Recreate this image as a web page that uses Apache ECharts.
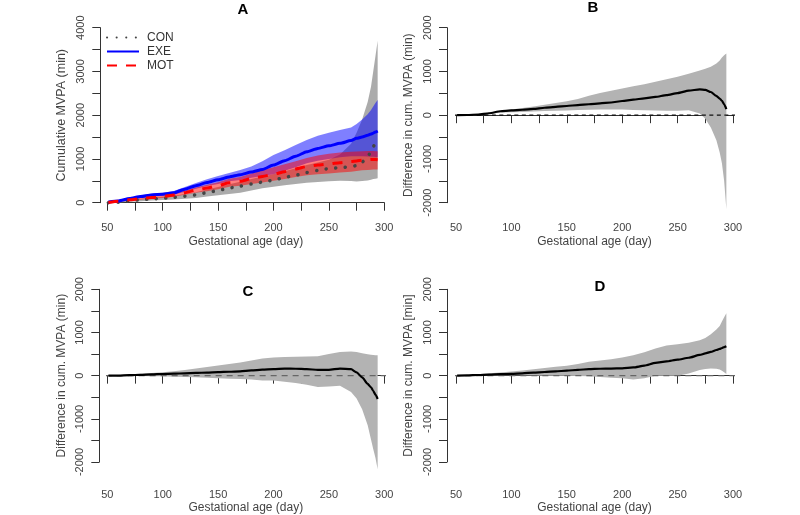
<!DOCTYPE html>
<html><head><meta charset="utf-8">
<script src="https://cdn.jsdelivr.net/npm/echarts@6/dist/echarts.min.js"></script>
<style>html,body{margin:0;padding:0;background:#fff}#c{width:800px;height:515px}</style>
</head><body><div id="c"></div>
<script>
const days = [51,60,70,80,90,100,110,120,130,140,150,160,170,180,190,200,210,220,230,240,250,260,270,275,280,285,288,290,292,294];

// Panel A
const conLine  = [0,10,45,65,85,100,122,150,178,230,280,335,380,425,470,515,580,630,690,740,780,800,820,850,930,1050,1170,1280,1360,1450];
const conUpper = [5,20,60,90,115,135,160,200,240,300,360,420,480,540,600,650,720,790,860,920,980,1100,1350,1600,1900,2300,2650,3000,3350,3700];
const conLower = [0,3,20,35,50,60,72,90,110,140,170,200,230,280,330,366,400,430,457,475,490,503,495,485,495,510,525,540,550,557];
const exeLine  = [15,40,95,140,178,195,225,310,390,460,525,590,640,700,760,860,960,1060,1165,1240,1300,1357,1420,1471,1500,1540,1570,1590,1615,1640];
const exeUpper = [30,55,110,165,210,230,265,360,450,535,610,680,747,830,950,1090,1200,1320,1433,1530,1600,1662,1720,1800,1900,2020,2119,2200,2280,2350];
const exeLower = [5,25,75,110,140,160,180,250,320,380,430,490,520,570,610,650,730,810,900,960,1000,1040,1060,1060,1060,1055,1050,1050,1045,1040];
const motLine  = [5,35,65,95,118,140,175,230,290,335,390,455,490,550,600,650,710,770,825,860,885,915,940,955,970,985,990,990,985,980];
const motUpper = [15,50,85,120,150,175,215,280,350,410,470,545,590,670,740,810,880,950,1020,1080,1120,1150,1165,1170,1175,1180,1180,1180,1178,1175];
const motLower = [0,20,45,70,88,105,135,180,230,260,310,365,390,430,460,500,540,590,630,650,670,690,710,725,740,750,755,760,760,760];

// Panel B
const bLine  = [0,5,15,45,90,110,125,145,170,190,210,232,250,270,290,325,355,385,419,460,505,560,592,580,530,440,380,330,250,140];
const bUpper = [5,15,30,60,100,130,165,200,240,280,320,370,445,510,560,610,660,710,762,820,880,945,1020,1060,1110,1180,1250,1320,1370,1410];
const bLower = [-5,-5,0,25,60,70,75,85,95,100,110,120,125,128,130,128,120,114,110,104,100,114,40,-80,-280,-571,-850,-1100,-1500,-2150];

// Panel C
const cLine  = [0,2,10,20,30,38,45,55,62,72,82,90,100,120,140,152,165,160,150,135,135,165,150,76,-40,-190,-270,-350,-440,-540];
const cUpper = [5,15,30,45,60,76,100,130,168,200,235,270,305,350,400,420,434,440,442,450,500,550,560,550,520,495,485,480,475,470];
const cLower = [-5,-5,-5,-8,-12,-15,-25,-32,-38,-50,-60,-70,-76,-90,-110,-114,-140,-170,-213,-260,-250,-235,-381,-530,-780,-1150,-1480,-1700,-1900,-2170];

// Panel D
const dLine  = [0,5,15,25,35,40,55,70,85,100,115,135,150,160,165,170,190,230,295,330,370,415,480,515,550,594,620,640,660,680];
const dUpper = [5,15,35,55,75,95,120,150,180,205,229,270,320,350,380,420,470,540,630,700,730,760,820,870,960,1067,1150,1257,1350,1448];
const dLower = [-5,-5,-3,0,5,10,8,5,0,0,0,-8,-15,-30,-50,-60,-90,-60,-5,0,0,50,130,152,168,160,140,114,80,38];

const xTicks = [50,100,150,200,250,300];
const aTicks = [0,1000,2000,3000,4000];
const dTicks = [-2000,-1000,0,1000,2000];
const zeroLine = [48.5, 305];

const pair = (arr) => arr.map((v,i)=>[days[i], v]);
const FONT = 'Liberation Sans, Arial, Helvetica, sans-serif';
const AX = '#333';

const grids = [
  {left:107.3, top:27.7, width:277, height:175},
  {left:456,   top:27.7, width:277, height:175},
  {left:107.3, top:289.3, width:277, height:174.7},
  {left:456,   top:289.3, width:277, height:174.7}
];
const yOff = [7, 9, 8, 9];
const xMargin = [13, 13, 20, 20];
const xNameGap = [26, 26, 33, 33];
const yNames = ['Cumulative MVPA (min)','Difference in cum. MVPA (min)','Difference in cum. MVPA (min)','Difference in cum. MVPA [min]'];

const xAxes = grids.map((g,i)=>({
  type:'value', gridIndex:i, min:50, max:300, interval:25, offset:7,
  axisLine:{show:true, lineStyle:{color:AX, width:1}},
  axisTick:{show:true, length:8, lineStyle:{color:AX}},
  splitLine:{show:false},
  axisLabel:{margin:xMargin[i], fontFamily:FONT, fontSize:11, color:'#444',
    formatter:v=> xTicks.includes(v) ? String(v) : ''},
  name:'Gestational age (day)', nameLocation:'middle', nameGap:xNameGap[i],
  nameTextStyle:{fontFamily:FONT, fontSize:12, color:'#444'}
}));
const yAxes = grids.map((g,i)=>{
  const ticks = i===0 ? aTicks : dTicks;
  return {
    type:'value', gridIndex:i, min:ticks[0], max:ticks[ticks.length-1], interval:500, offset:yOff[i],
    axisLine:{show:true, lineStyle:{color:AX, width:1}},
    axisTick:{show:true, length:8, lineStyle:{color:AX}},
    splitLine:{show:false},
    axisLabel:{rotate:90, margin:14, fontFamily:FONT, fontSize:11, color:'#444',
      formatter:v=> ticks.includes(v) ? String(v) : ''},
    name:yNames[i], nameLocation:'middle', nameRotate:90, nameGap:32,
    nameTextStyle:{fontFamily:FONT, fontSize:i===0?12.5:12, color:'#444'}
  };
});

const series = [];
function band(id, lower, upper, gi, color){
  series.push({type:'custom', name:id, xAxisIndex:gi, yAxisIndex:gi, silent:true, z:1, clip:false,
    data:days.map((d,i)=>[d, lower[i], upper[i]]),
    encode:{x:0, y:[1,2]},
    renderItem:(params, api)=>{
      if (params.dataIndex !== 0) return null;
      const pts = [];
      for (let j=0;j<days.length;j++) pts.push(api.coord([days[j], upper[j]]));
      for (let j=days.length-1;j>=0;j--) pts.push(api.coord([days[j], lower[j]]));
      return {type:'polygon', shape:{points:pts}, style:{fill:color}, silent:true};
    }
  });
}
function line(name, vals, gi, color, width, type, cap, z){
  series.push({type:'line', name:name, xAxisIndex:gi, yAxisIndex:gi, data:pair(vals),
    showSymbol:false, symbol:'none', clip:false, smooth:0.2, smoothMonotone:'x',
    lineStyle:{color:color, width:width, type:type, cap:cap||'butt'}, itemStyle:{color:color}, z:z||3});
}
function zero(gi, color, dash){
  series.push({type:'line', name:'zero'+gi, xAxisIndex:gi, yAxisIndex:gi, data:zeroLine.map(x=>[x,0]),
    showSymbol:false, symbol:'none', clip:false, lineStyle:{color:color, width:1.3, type:dash}, z:2, silent:true});
}

// Panel A
band('conB', conLower, conUpper, 0, 'rgba(150,150,150,0.8)');
band('exeB', exeLower, exeUpper, 0, 'rgba(0,0,255,0.5)');
band('motB', motLower, motUpper, 0, 'rgba(255,0,0,0.5)');
line('CON', conLine, 0, '#444', 3.5, [0.1, 9.5], 'round', 4);
line('EXE', exeLine, 0, '#0000ff', 3, 'solid', 'butt', 5);
line('MOT', motLine, 0, '#ff0000', 3, [10, 9], 'butt', 6);

// Panel B
band('bB', bLower, bUpper, 1, '#b3b3b3');
zero(1, '#111', [4, 3.5]);
line('B', bLine, 1, '#000', 2.2, 'solid');
// Panel C
band('cB', cLower, cUpper, 2, '#b3b3b3');
zero(2, '#666', [6, 5]);
line('C', cLine, 2, '#000', 2.2, 'solid');
// Panel D
band('dB', dLower, dUpper, 3, '#b3b3b3');
zero(3, '#666', [6, 5]);
line('D', dLine, 3, '#000', 2.2, 'solid');

const tStyle = {fontFamily:FONT, fontSize:15, fontWeight:'bold', color:'#000'};
const option = {
  animation:false,
  backgroundColor:'#fff',
  title:[
    {text:'A', left:243, top:2, padding:0, textAlign:'center', textStyle:tStyle},
    {text:'B', left:593, top:0, padding:0, textAlign:'center', textStyle:tStyle},
    {text:'C', left:248, top:284, padding:0, textAlign:'center', textStyle:tStyle},
    {text:'D', left:600, top:279, padding:0, textAlign:'center', textStyle:tStyle}
  ],
  legend:{
    data:['CON','EXE','MOT'], orient:'vertical', left:101, top:26.5,
    itemWidth:32, itemHeight:10, itemGap:2,
    itemStyle:{opacity:0},
    textStyle:{fontFamily:FONT, fontSize:12, color:'#333', padding:[0,0,0,3]},
    selectedMode:false
  },
  grid:grids,
  xAxis:xAxes,
  yAxis:yAxes,
  series:series
};
const chart = echarts.init(document.getElementById('c'), null, {renderer:'canvas'});
chart.setOption(option);
</script>
</body></html>
